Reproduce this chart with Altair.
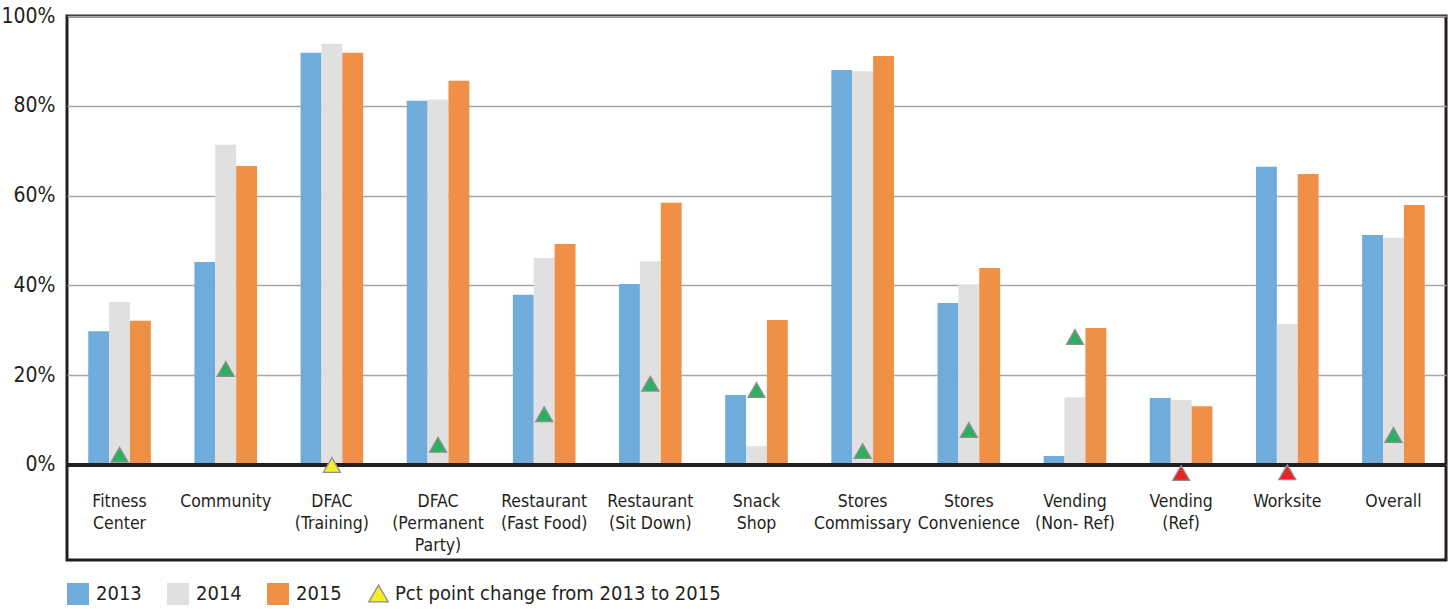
import altair as alt
import pandas as pd

# Outlet categories ("|" marks a line break in the axis label)
categories = [
    "Fitness|Center", "Community", "DFAC|(Training)", "DFAC|(Permanent|Party)",
    "Restaurant|(Fast Food)", "Restaurant|(Sit Down)", "Snack|Shop",
    "Stores|Commissary", "Stores|Convenience", "Vending|(Non- Ref)",
    "Vending|(Ref)", "Worksite", "Overall",
]
pct_2013 = [29.8, 45.2, 91.8, 81.1, 37.9, 40.3, 15.6, 88.0, 36.1, 2.0, 14.9, 66.4, 51.2]
pct_2014 = [36.3, 71.3, 93.8, 81.4, 46.1, 45.4, 4.2, 87.7, 40.1, 15.1, 14.5, 31.4, 50.6]
pct_2015 = [32.1, 66.6, 91.8, 85.6, 49.2, 58.4, 32.3, 91.1, 43.9, 30.5, 13.1, 64.8, 57.9]

years = ["2013", "2014", "2015"]
year_colors = ["#6FACDC", "#E0E0E0", "#F08F46"]
change_label = "Pct point change from 2013 to 2015"
y_ticks = [0, 20, 40, 60, 80, 100]

FONT = "Liberation Sans Narrow, DejaVu Sans Condensed, Arial Narrow, sans-serif"
INK = "#231F20"

bars_df = pd.DataFrame(
    [
        {"category": c, "year": yr, "value": v}
        for yr, series in zip(years, [pct_2013, pct_2014, pct_2015])
        for c, v in zip(categories, series)
    ]
)

change_df = pd.DataFrame({"category": categories})
change_df["change"] = [round(b - a, 1) for a, b in zip(pct_2013, pct_2015)]
change_df["direction"] = ["up" if d > 0 else ("down" if d < 0 else "flat") for d in change_df["change"]]
change_df["marker"] = change_label

x_enc = alt.X(
    "category:N",
    sort=categories,
    scale=alt.Scale(paddingInner=0.41, paddingOuter=0.2),
    axis=alt.Axis(
        title=None,
        orient="bottom",
        offset=-95,
        labelExpr="split(datum.label, '|')",
        labelAngle=0,
        ticks=False,
        domain=False,
        grid=False,
        labelPadding=27,
        labelFontSize=17.5,
        labelLineHeight=22,
        labelColor=INK,
        labelFont=FONT,
        labelLimit=0,
    ),
)

y_scale = alt.Scale(domain=[-21.16, 100], nice=False, zero=False)

bars = alt.Chart(bars_df).mark_bar().encode(
    x=x_enc,
    xOffset=alt.XOffset("year:N", sort=years, scale=alt.Scale(paddingInner=0, paddingOuter=0)),
    y=alt.Y(
        "value:Q",
        scale=y_scale,
        axis=alt.Axis(
            title=None,
            values=y_ticks,
            labelExpr="datum.value + '%'",
            grid=True,
            gridColor="#A6A6A6",
            gridWidth=1.5,
            domain=False,
            ticks=False,
            labelPadding=12,
            labelFontSize=21,
            labelColor=INK,
            labelFont=FONT,
        ),
    ),
    color=alt.Color(
        "year:N",
        scale=alt.Scale(domain=years, range=year_colors),
        legend=alt.Legend(
            title=None,
            orient="none",
            direction="horizontal",
            legendX=0,
            legendY=567,
            padding=0,
            symbolType="square",
            symbolSize=484,
            symbolStrokeWidth=0,
            labelFontSize=20,
            labelFont=FONT,
            labelColor=INK,
            labelOffset=7,
            labelLimit=0,
            columnPadding=25,
        ),
    ),
)

zero_line = alt.Chart(bars_df).mark_rule(color=INK, strokeWidth=3).encode(y=alt.datum(0))

triangles = alt.Chart(change_df).mark_point(
    filled=True, size=290, stroke="#8E8E8E", strokeWidth=1.3, opacity=1
).encode(
    x=x_enc,
    y=alt.Y("change:Q", scale=y_scale),
    fill=alt.Fill(
        "direction:N",
        scale=alt.Scale(domain=["up", "flat", "down"], range=["#2BB062", "#F5EC2A", "#EC2227"]),
        legend=None,
    ),
    shape=alt.Shape(
        "marker:N",
        scale=alt.Scale(domain=[change_label], range=["triangle-up"]),
        legend=alt.Legend(
            title=None,
            orient="none",
            legendX=301,
            legendY=567,
            padding=0,
            symbolSize=380,
            symbolFillColor="#F5EC2A",
            symbolStrokeColor="#8E8E8E",
            symbolStrokeWidth=1.3,
            labelFontSize=20,
            labelFont=FONT,
            labelColor=INK,
            labelOffset=6,
            labelLimit=0,
        ),
    ),
)

chart = (
    alt.layer(bars, zero_line, triangles)
    .properties(
        width=1379,
        height=544,
        autosize=alt.AutoSizeParams(type="none"),
        padding={"left": 67, "top": 16, "right": 2, "bottom": 49},
    )
    .configure(font=FONT)
    .configure_view(stroke=INK, strokeWidth=3)
)

chart.save("out.html", embed_options={"renderer": "svg", "actions": False})
